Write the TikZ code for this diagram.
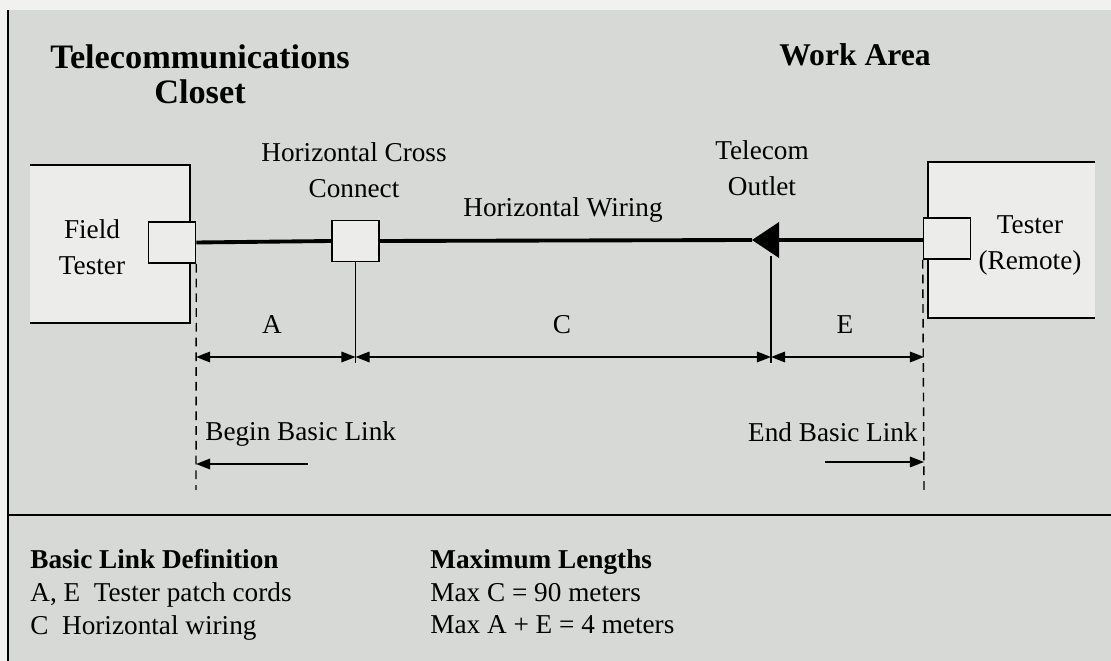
\documentclass[tikz,border=0pt]{standalone}
\usepackage{fontspec}
\setmainfont{Liberation Serif}
\usepackage{tikz}
\usetikzlibrary{positioning,arrows.meta}
\usepackage{xcolor}
\definecolor{panel}{RGB}{214,217,213}
\definecolor{boxfill}{RGB}{236,237,234}
\definecolor{paper}{RGB}{241,242,239}

\begin{document}
\begin{tikzpicture}[
    x=0.02cm, y=-0.02cm,
    every node/.style={font=\fontsize{15.5}{20.5}\selectfont, inner sep=0pt},
    unit/.style={
        fill=boxfill,
        inner sep=0pt
    },
    port/.style={
        draw,
        line width=0.9pt,
        fill=boxfill,
        minimum width=0.94cm,
        minimum height=0.82cm
    },
    head/.style={font=\fontsize{18}{20}\selectfont\bfseries, align=center},
    lbl/.style={align=center},
    wire/.style={line width=2.2pt},
    drop/.style={line width=0.8pt},
    guide/.style={line width=0.8pt, dash pattern=on 5pt off 3.4pt},
    dim/.style={line width=0.9pt, {Triangle[length=8pt,width=6pt]}-{Triangle[length=8pt,width=6pt]}},
    legend/.style={font=\fontsize{15.5}{18.7}\selectfont, align=left, anchor=north west}
]

\useasboundingbox (0,0) rectangle (1111,661);
\fill[paper] (0,0) rectangle (1111,661);
\fill[panel] (8,10) rectangle (1111,661);
\draw[line width=1pt] (8,10) -- (8,661);
\draw[line width=1.1pt] (8,515) -- (1111,515);

\node[head, font=\fontsize{19.5}{20}\selectfont\bfseries] (tc) at (200,74) {Telecommunications\\Closet};
\node[head] (wa) at (855,55) {Work Area};

\node[unit, minimum width=3.2cm, minimum height=3.16cm] (ft) at (110,244) {};
\draw[line width=1.1pt] (ft.north west) -- (ft.north east) -- (ft.south east) -- (ft.south west);
\node[lbl] (ftl) at (92,247) {Field\\Tester};
\node[port] (ftp) at (172,242.5) {};

\node[unit, minimum width=3.34cm, minimum height=3.12cm] (rt) at (1011.5,240) {};
\draw[line width=1.1pt] (rt.north east) -- (rt.north west) -- (rt.south west) -- (rt.south east);
\node[lbl] (rtl) at (1030,245) {Tester\\(Remote)};
\node[port] (rtp) at (947,238.5) {};

\node[port] (hcc) at (355.5,241) {};
\node[lbl] (hccl) at (354,170) {Horizontal Cross\\Connect};

\coordinate (to) at (752,240);
\coordinate (tob) at (779,240);
\fill (to) -- (779,222) -- (779,258) -- cycle;
\node[lbl] (tol) at (762,168) {Telecom\\Outlet};

\draw[wire] (ftp.east) -- (hcc.west);
\draw[wire] (hcc.east) -- (to);
\draw[wire] (tob) -- (tob -| rtp.west);
\node[lbl] (hw) at (563,210) {Horizontal Wiring};

\coordinate (hccd) at (355.5,363);
\coordinate (tod) at (771,363);
\draw[drop] (hcc.south) -- (hccd);
\draw[drop] (771,256) -- (tod);

\coordinate (gl) at (196,490);
\coordinate (gr) at (924,490);
\draw[guide] (ftp.south east) -- (gl);
\draw[guide] (rtp.south west) -- (gr);

\coordinate (dl) at (196,357);
\coordinate (dm) at (355.5,357);
\coordinate (dn) at (771,357);
\coordinate (dr) at (924,357);
\draw[dim] (dl) -- (dm);
\draw[dim] (dm) -- (dn);
\draw[dim] (dn) -- (dr);
\node (la) at (272,325) {A};
\node (lc) at (562,325) {C};
\node (le) at (845,325) {E};

\node[anchor=west] (bbl) at (205,434) {Begin Basic Link};
\node[anchor=east] (ebl) at (918,432) {End Basic Link};
\coordinate (bs) at (308,464);
\coordinate (bt) at (196,464);
\coordinate (es) at (825,462);
\coordinate (et) at (924,462);
\draw[line width=0.9pt, -{Triangle[length=8pt,width=6pt]}] (bs) -- (bt);
\draw[line width=0.9pt, -{Triangle[length=8pt,width=6pt]}] (es) -- (et);

\node[legend] (def) at (30,549) {\textbf{Basic Link Definition}\\A, E~~Tester patch cords\\C~~Horizontal wiring};
\node[legend] (max) at (430,549) {\textbf{Maximum Lengths}\\Max C = 90 meters\\Max A + E = 4 meters};

\end{tikzpicture}
\end{document}
